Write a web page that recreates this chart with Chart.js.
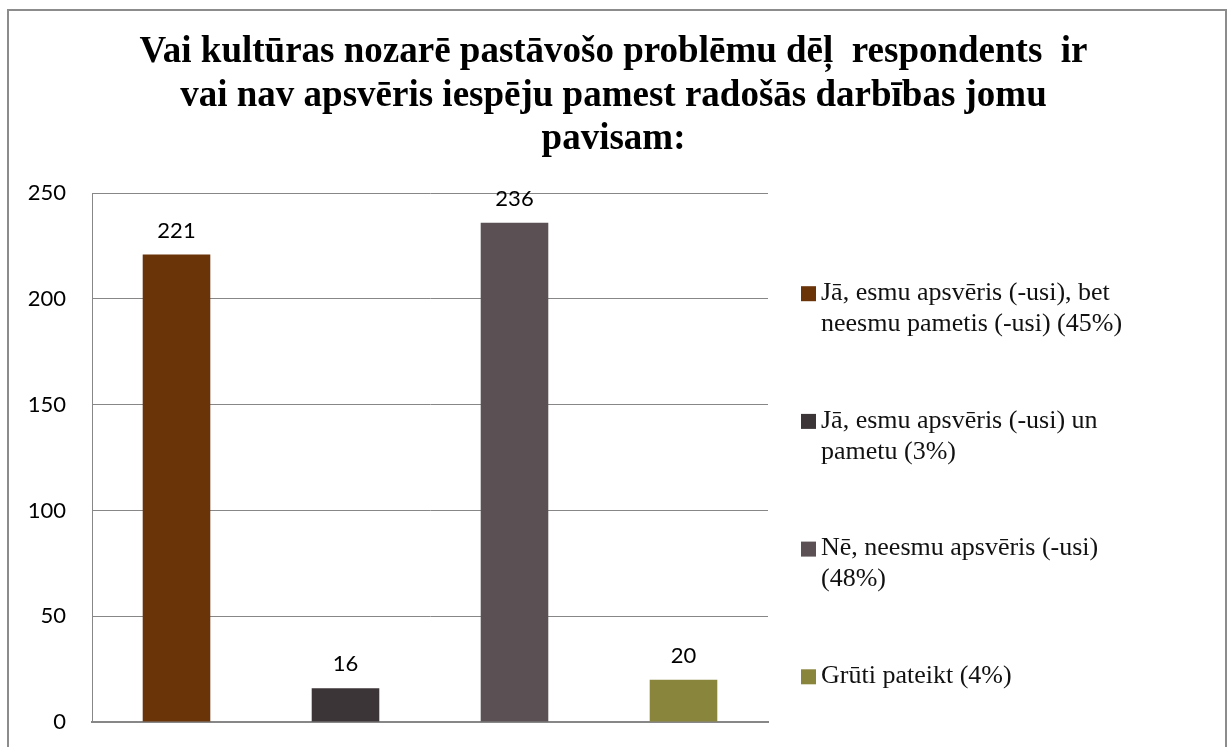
<!DOCTYPE html>
<html>
<head>
<meta charset="utf-8">
<script src="https://cdn.jsdelivr.net/npm/chart.js@4.4.1/dist/chart.umd.min.js"></script>
<style>
    body { margin: 0; background: #fff; }
    #wrap { position: relative; width: 1227px; height: 747px; overflow: hidden; }
    #frame { position: absolute; left: 7px; top: 9px; width: 1216px; height: 780px; border: 2px solid #8c8c8c; }
    canvas { position: absolute; left: 0; top: 0; }
</style>
</head>
<body>
<div id="wrap">
    <div id="frame"></div>
    <canvas id="chart" width="1227" height="747"></canvas>
</div>
<script>
// dati no attēla
const titleLines = [
    'Vai kultūras nozarē pastāvošo problēmu dēļ  respondents  ir',
    'vai nav apsvēris iespēju pamest radošās darbības jomu',
    'pavisam:'
];
const categories = [
    ['Jā, esmu apsvēris (-usi), bet', 'neesmu pametis (-usi) (45%)'],
    ['Jā, esmu apsvēris (-usi) un', 'pametu (3%)'],
    ['Nē, neesmu apsvēris (-usi)', '(48%)'],
    ['Grūti pateikt (4%)']
];
const values = [221, 16, 236, 20];
const barColors = ['#6a3308', '#3c3537', '#5b5155', '#8a853d'];
const yTicks = [0, 50, 100, 150, 200, 250];

const gridGrey = '#878787';
const sansFont = 'Lato, "Open Sans", sans-serif';
const serifFont = '"Liberation Serif", "Times New Roman", serif';

// vērtības virs stabiņiem
const valueLabels = {
    id: 'valueLabels',
    afterDatasetsDraw(chart) {
        const ctx = chart.ctx;
        const meta = chart.getDatasetMeta(0);
        ctx.save();
        ctx.font = '22px ' + sansFont;
        ctx.fillStyle = '#000';
        ctx.textAlign = 'center';
        ctx.textBaseline = 'middle';
        meta.data.forEach((bar, i) => {
            ctx.fillText(String(values[i]), bar.x, bar.y - 24);
        });
        ctx.restore();
    }
};

// leģenda labajā pusē (ar pārnesumiem)
const sideLegend = {
    id: 'sideLegend',
    afterDraw(chart) {
        const ctx = chart.ctx;
        const area = chart.chartArea;
        const boxX = area.right + 33;
        const textX = area.right + 53;
        const firstY = area.top + 100;
        const step = 127.7;
        const lineH = 31;
        ctx.save();
        ctx.font = '26px ' + serifFont;
        ctx.textBaseline = 'middle';
        ctx.textAlign = 'left';
        categories.forEach((lines, i) => {
            const y = firstY + i * step;
            ctx.fillStyle = barColors[i];
            ctx.fillRect(boxX, y - 7, 15, 15);
            ctx.fillStyle = '#111';
            lines.forEach((line, j) => {
                ctx.fillText(line, textX, y + j * lineH);
            });
        });
        ctx.restore();
    }
};

const ctx = document.getElementById('chart').getContext('2d');
const chart = new Chart(ctx, {
    type: 'bar',
    data: {
        labels: categories,
        datasets: [{
            label: 'Respondenti',
            data: values,
            backgroundColor: barColors,
            barPercentage: 1,
            categoryPercentage: 0.4
        }]
    },
    options: {
        responsive: false,
        animation: false,
        layout: {
            padding: 0
        },
        scales: {
            x: {
                ticks: { display: false },
                grid: { display: false, drawTicks: false },
                border: { display: true, color: gridGrey, width: 2 },
                afterFit: (scale) => { scale.height = 747 - 722; }
            },
            y: {
                min: 0,
                max: 250,
                afterBuildTicks: (scale) => {
                    scale.ticks = yTicks.map(v => ({ value: v }));
                },
                afterFit: (scale) => {
                    scale.width = 92;
                    // ticks.padding citādi pieskaitās arī augšai/apakšai
                    scale.paddingTop = 13;
                    scale.paddingBottom = 13;
                },
                ticks: {
                    padding: 26,
                    color: '#000',
                    font: { family: sansFont, size: 22 }
                },
                grid: { color: gridGrey, lineWidth: 1, drawTicks: false },
                border: { display: true, color: gridGrey, width: 1 }
            },
            // tukša ass labajā pusē, lai atstātu vietu leģendai
            spacer: {
                position: 'right',
                ticks: { display: false },
                grid: { display: false, drawTicks: false },
                border: { display: false },
                afterFit: (scale) => { scale.width = 1227 - 768; }
            }
        },
        plugins: {
            legend: { display: false },
            tooltip: { enabled: false },
            title: {
                display: true,
                text: titleLines,
                color: '#000',
                font: { family: serifFont, size: 37, weight: 'bold', lineHeight: 1.173 },
                padding: { top: 31, bottom: 32 }
            }
        }
    },
    plugins: [valueLabels, sideLegend]
});
</script>
</body>
</html>
